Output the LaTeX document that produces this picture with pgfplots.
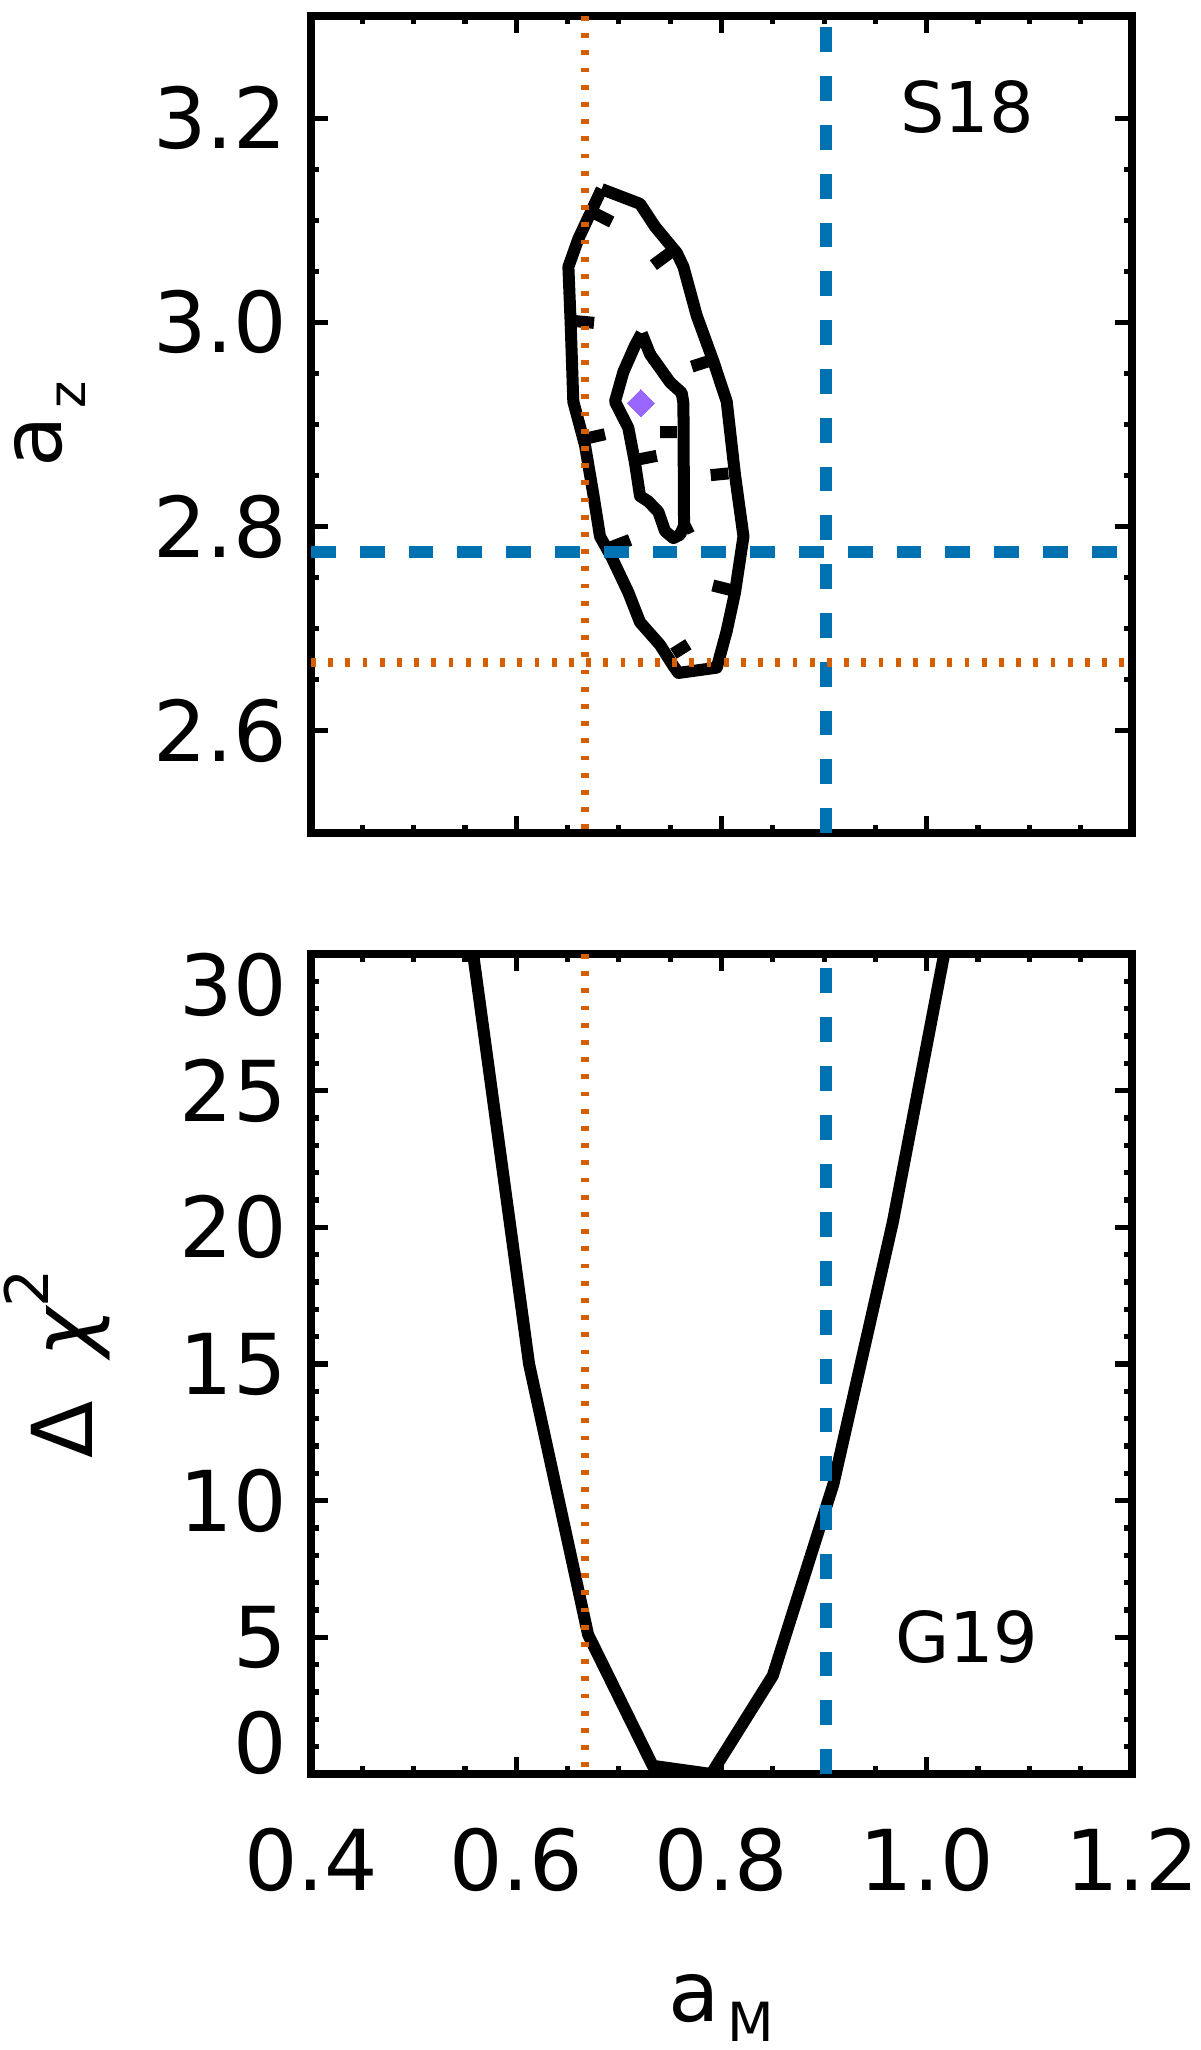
\documentclass[border=0pt]{standalone}
\usepackage{fontspec}
\setmainfont{DejaVu Sans}
\usepackage{pgfplots}
\pgfplotsset{compat=1.18}
\usetikzlibrary{calc}
\definecolor{refblue}{RGB}{0,114,178}
\definecolor{reforange}{RGB}{213,94,0}
\definecolor{diamondpurple}{RGB}{153,102,255}

\pgfplotsset{
  panel/.style={
    scale only axis, width=205.25pt,
    xmin=0.4, xmax=1.2,
    xtick={0.4,0.6,0.8,1.0,1.2},
    minor x tick num=3,
    tick align=inside, tick pos=both,
    axis line style={line width=1.9pt},
    tick style={black, line width=1.3pt},
    major tick length=4.25pt, minor tick length=2pt,
    tick label style={font=\fontsize{21}{24}\selectfont},
    yticklabel style={xshift=-2.5pt},
    xticklabel style={yshift=-10pt},
    label style={font=\fontsize{21}{24}\selectfont},
    unbounded coords=jump,
  },
  contour/.style={black, line width=3pt, line join=round},
  bluefit/.style={refblue, line width=2.9pt, line cap=butt, dash pattern=on 6.2pt off 6pt},
  orangefit/.style={reforange, line width=2.1pt, line cap=butt, dash pattern=on 1.2pt off 3.1pt},
}

\begin{document}
\begin{tikzpicture}
% top panel: a_z against a_M
\begin{axis}[panel, name=top, height=204.25pt,
  ymin=2.5, ymax=3.3,
  ytick={2.6,2.8,3.0,3.2}, yticklabels={2.6,2.8,3.0,3.2},
  minor y tick num=3,
  xticklabels={},
  ylabel={a\hspace{2pt}\raisebox{-6pt}{\fontsize{13}{14}\selectfont z}},
  ylabel style={at={(axis description cs:-0.3033,0.5)}, anchor=base},
]
% outer contour
\addplot[contour] coordinates {
  (0.6832,3.1305) (0.7206,3.1161) (0.7352,3.0938) (0.7564,3.0681)
  (0.7629,3.0544) (0.7759,3.0064) (0.7921,2.9618) (0.8051,2.9224)
  (0.8132,2.8504) (0.8214,2.7904) (0.8132,2.7356) (0.8051,2.6979)
  (0.7954,2.6619) (0.7580,2.6567) (0.7531,2.6636) (0.7401,2.6842)
  (0.7206,2.7064) (0.7092,2.7356) (0.6930,2.7699) (0.6816,2.7904)
  (0.6751,2.8316) (0.6670,2.8796) (0.6556,2.9224) (0.6530,2.9995)
  (0.6508,3.0544) (0.6605,3.0818) (0.6832,3.1305)
};
% inner contour
\addplot[contour] coordinates {
  (0.7222,2.9893) (0.7304,2.9687) (0.7499,2.9413) (0.7612,2.9310)
  (0.7629,2.9207) (0.7635,2.8007) (0.7596,2.7921) (0.7531,2.7887)
  (0.7450,2.7956) (0.7385,2.8144) (0.7287,2.8247) (0.7206,2.8299)
  (0.7157,2.8624) (0.7092,2.8967) (0.6962,2.9224) (0.7044,2.9516)
  (0.7157,2.9773) (0.7222,2.9893)
};
% downhill ticks
\addplot[contour, line cap=butt] coordinates {
  (0.6751,3.1075) (0.6930,3.0983) (nan,nan)
  (0.7499,3.0681) (0.7336,3.0561) (nan,nan)
  (0.6572,3.0013) (0.6758,2.9995) (nan,nan)
  (0.7921,2.9635) (0.7710,2.9567) (nan,nan)
  (0.6686,2.8864) (0.6865,2.8905) (nan,nan)
  (0.8067,2.8521) (0.7895,2.8504) (nan,nan)
  (0.6930,2.7801) (0.7109,2.7870) (nan,nan)
  (0.8116,2.7373) (0.7915,2.7424) (nan,nan)
  (0.7531,2.6756) (0.7677,2.6848) (nan,nan)
  (0.7564,2.8926) (0.7401,2.8926) (nan,nan)
  (0.7190,2.8658) (0.7369,2.8693) (nan,nan)
  (0.7288,2.9653) (0.7362,2.9660) (nan,nan)
  (0.7645,2.7973) (0.7710,2.8007)
};
\addplot[bluefit] coordinates {(0.902,2.5) (0.902,3.3)};
\addplot[bluefit] coordinates {(0.4,2.775) (1.2,2.775)};
\addplot[orangefit] coordinates {(0.667,3.3) (0.667,2.5)};
\addplot[orangefit] coordinates {(0.4,2.667) (1.2,2.667)};
\addplot[only marks, mark=square*, mark size=2.4pt,
  mark options={rotate=45, fill=diamondpurple, draw=diamondpurple, line width=0pt}]
  coordinates {(0.7215,2.921)};
\node[font=\fontsize{17.5}{20}\selectfont] at (axis cs:1.039,3.211) {S18};
\end{axis}

% bottom panel: delta chi^2 against a_M
\begin{axis}[panel, name=bot, at={($(top.south west)+(0pt,-30.25pt)$)}, anchor=north west,
  height=205pt,
  ymin=0, ymax=30,
  ytick={0,5,10,15,20,25,30},
  yticklabels={\raisebox{7.75pt}[\height][\depth]{0},5,10,15,20,25,\raisebox{-7.75pt}[\height][\depth]{30}},
  minor y tick num=4,
  xticklabels={0.4,0.6,0.8,1.0,1.2},
  xlabel={a\hspace{2pt}\raisebox{-5pt}{\fontsize{13.5}{14}\selectfont M}},
  xlabel style={at={(axis description cs:0.5,-0.3024)}, anchor=base},
  ylabel={Δ\hspace{11pt}{\itshape χ}\raisebox{11pt}{\fontsize{15}{16}\selectfont 2}},
  ylabel style={at={(axis description cs:-0.2667,0.5)}, anchor=base},
]
\addplot[contour] coordinates {
  (0.558,30) (0.6125,15.0) (0.670,5.1) (0.733,0.3) (0.790,0.0)
  (0.850,3.6) (0.909,10.6) (0.967,20.2) (1.017,30)
};
\addplot[bluefit] coordinates {(0.902,0) (0.902,30)};
\addplot[orangefit] coordinates {(0.667,30) (0.667,0)};
\node[font=\fontsize{17.5}{20}\selectfont] at (axis cs:1.039,5.0) {G19};
\end{axis}

\pgfresetboundingbox
\path[use as bounding box] ([xshift=-77.75pt,yshift=4pt]top.north west)
  rectangle ([xshift=17pt,yshift=-69pt]bot.south east);
\end{tikzpicture}
\end{document}
